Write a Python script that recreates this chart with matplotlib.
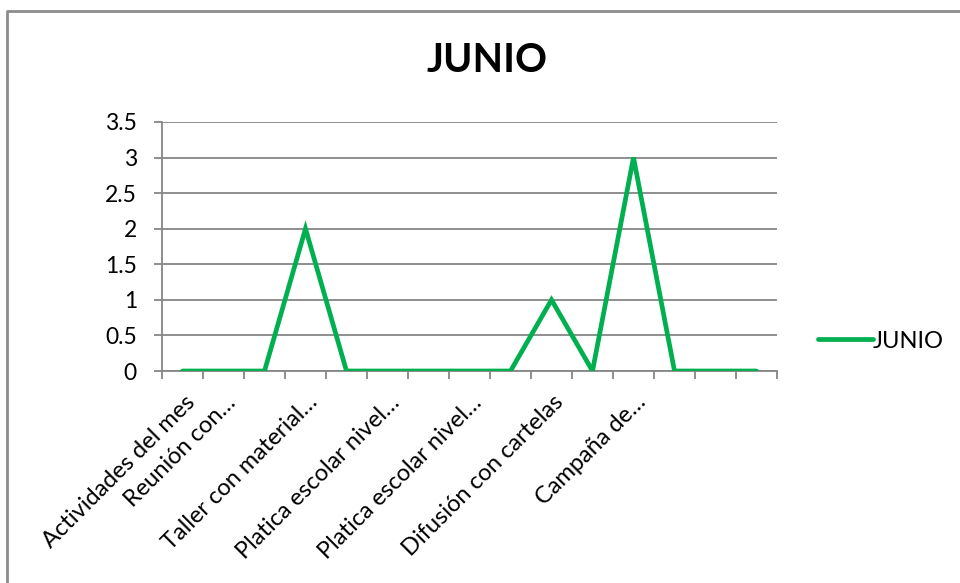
import matplotlib.pyplot as plt
from matplotlib.lines import Line2D
import matplotlib.transforms as mtransforms

# data (15 activities, only some labels are shown)
categories = ['Actividades del mes', 'Reunión con…', '', 'Taller con material…', '',
              'Platica escolar nivel…', '', 'Platica escolar nivel…', '',
              'Difusión con cartelas', '', 'Campaña de…', '', '', '']
junio = [0, 0, 0, 2, 0, 0, 0, 0, 0, 1, 0, 3, 0, 0, 0]
yticks = [0, 0.5, 1, 1.5, 2, 2.5, 3, 3.5]
ytick_labels = ['0', '0.5', '1', '1.5', '2', '2.5', '3', '3.5']

plt.rcParams['font.family'] = ['Lato', 'DejaVu Sans']
green = '#00B050'
grid_gray = '#868686'

fig = plt.figure(figsize=(9.6, 5.83), dpi=100)
ax = fig.add_axes([162 / 960, 1 - 371 / 583, 615 / 960, 249 / 583])

x = list(range(len(junio)))
ax.plot(x, junio, color=green, linewidth=3.4, solid_capstyle='round',
        solid_joinstyle='miter', label='JUNIO', zorder=3)

ax.set_xlim(-0.5, len(junio) - 0.5)
ax.set_ylim(0, 3.5)
ax.set_yticks(yticks)
ax.set_yticklabels(ytick_labels, fontsize=16.5)
ax.yaxis.grid(True, color=grid_gray, linewidth=1.3)
ax.set_axisbelow(True)

# category boundaries get the tick marks, labels sit at the centres
ax.set_xticks([i - 0.5 for i in range(len(junio) + 1)])
ax.set_xticklabels([])
ax.set_xticks(x, minor=True)
ax.set_xticklabels(categories, minor=True, fontsize=17, rotation=45,
                   ha='right', va='center', rotation_mode='anchor')
ax.tick_params(axis='x', which='minor', length=0, pad=0)
ax.tick_params(axis='x', which='major', length=6, color=grid_gray, width=1.3)
ax.tick_params(axis='y', length=6, color=grid_gray, width=1.3, pad=12)

offset = mtransforms.ScaledTranslation(0.09, -0.28, fig.dpi_scale_trans)
for lab in ax.get_xticklabels(minor=True):
    lab.set_transform(lab.get_transform() + offset)

for side in ['top', 'right']:
    ax.spines[side].set_visible(False)
for side in ['left', 'bottom']:
    ax.spines[side].set_color(grid_gray)
    ax.spines[side].set_linewidth(1.3)

fig.text(487 / 960, 1 - 60 / 583, 'JUNIO', fontsize=28.5, fontweight='bold',
         ha='center', va='center')

ax.legend(loc='center left', bbox_to_anchor=(797 / 960, 1 - 341 / 583),
          bbox_transform=fig.transFigure, frameon=False, fontsize=17,
          handlelength=2.3, handletextpad=0.0)

# chart border (only top and left edges are visible in the crop)
fig.add_artist(Line2D([7 / 960, 7 / 960, 1], [0, 1 - 10.5 / 583, 1 - 10.5 / 583],
                      transform=fig.transFigure, color='#8c8c8c', linewidth=2))

fig.savefig('out.png', dpi=100)
